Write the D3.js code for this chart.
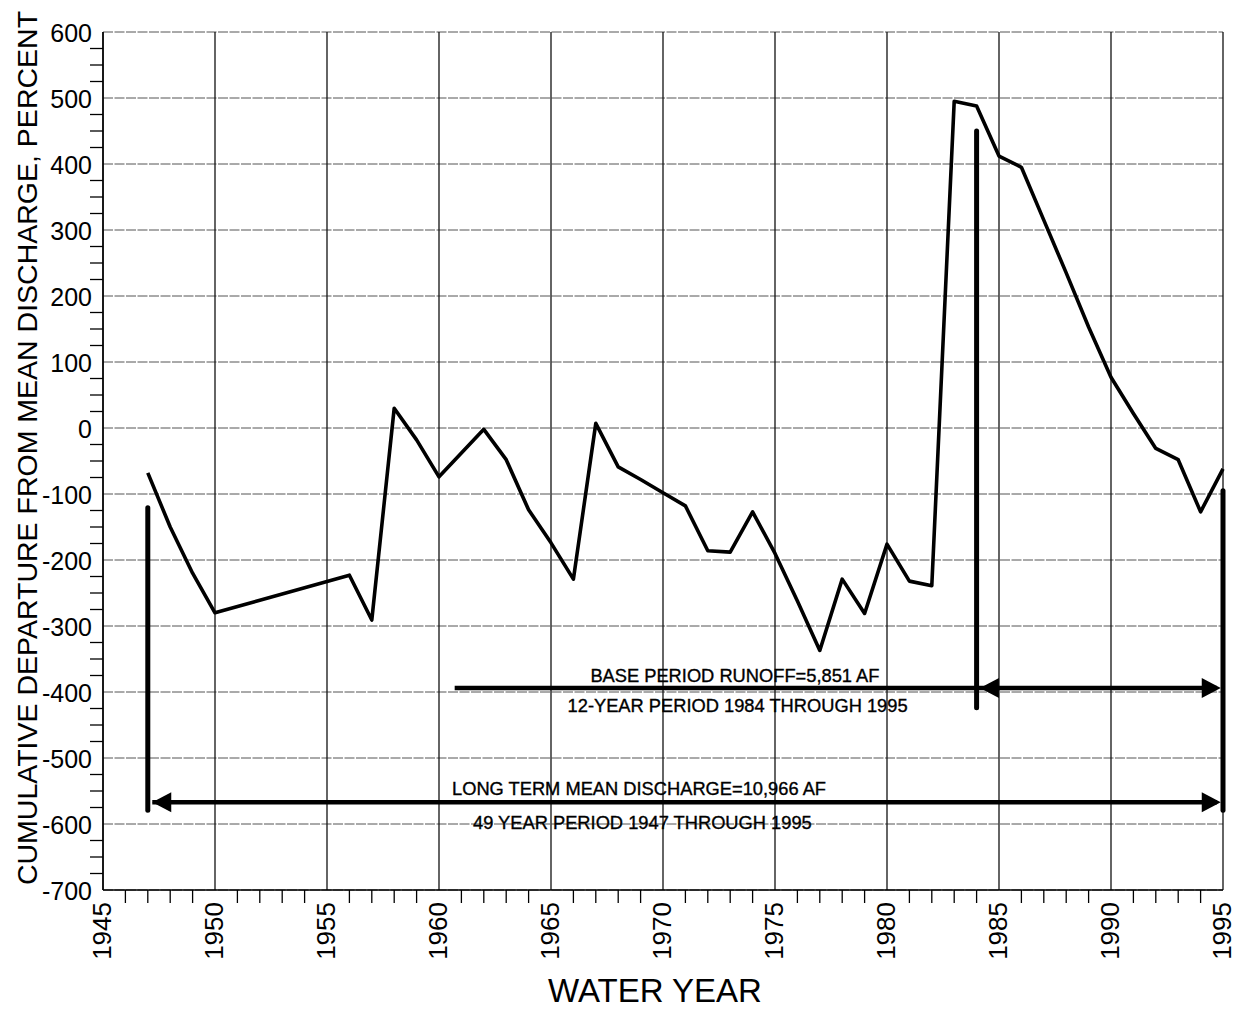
<!DOCTYPE html>
<html>
<head>
<meta charset="utf-8">
<script src="https://cdn.jsdelivr.net/npm/d3@7"></script>
<style>
  html, body { margin: 0; padding: 0; background: #fff; }
  svg { display: block; font-family: "Liberation Sans", Arial, sans-serif; }
</style>
</head>
<body>
<svg id="chart" width="1236" height="1009"></svg>
<script>
// Water years with records and the cumulative departure (percent) for each
const years = [1947, 1948, 1949, 1950, 1956, 1957, 1958, 1959, 1960, 1961, 1962, 1963, 1964, 1965,
               1966, 1967, 1968, 1969, 1970, 1971, 1972, 1973, 1974, 1975, 1976, 1977, 1978, 1979,
               1980, 1981, 1982, 1983, 1984, 1985, 1986, 1987, 1988, 1989, 1990, 1991, 1992, 1993,
               1994, 1995];
const departure = [-68, -150, -220, -280, -223, -291, 30, -18, -74, -38, -2, -48, -124, -174,
                   -229, 7, -59, -78, -98, -118, -186, -188, -127, -190, -262, -337, -229, -281,
                   -176, -232, -239, 495, 488, 412, 395, 315, 235, 153, 77, 22, -31, -48,
                   -127, -62];

// Axis tick values
const yMajorTicks = d3.range(-700, 601, 100);
const yMinorTicks = d3.range(-700, 601, 25).filter(v => v % 100 !== 0);
const xMajorTicks = d3.range(1945, 1996, 5);
const xMinorTicks = d3.range(1945, 1996, 1).filter(v => v % 5 !== 0);

// Period brackets: vertical markers and double arrows (year, value)
const markers = [
  { year: 1947, from: -121, to: -579 },
  { year: 1984, from: 450, to: -424 },
  { year: 1995, from: -95, to: -579 }
];
const arrows = [
  { lineStart: 1960.7, headLeft: 1984.15, headRight: 1994.9, value: -394 },
  { lineStart: 1947.2, headLeft: 1947.2, headRight: 1994.9, value: -567 }
];
const notes = [
  { text: "BASE PERIOD RUNOFF=5,851 AF", year: 1973.21, value: -385 },
  { text: "12-YEAR PERIOD 1984 THROUGH 1995", year: 1973.33, value: -430 },
  { text: "LONG TERM MEAN DISCHARGE=10,966 AF", year: 1968.93, value: -556 },
  { text: "49 YEAR PERIOD 1947 THROUGH 1995", year: 1969.08, value: -607 }
];

const svg = d3.select("#chart");
const x = d3.scaleLinear().domain([1945, 1995]).range([103, 1223]);
const y = d3.scaleLinear().domain([-700, 600]).range([890, 32]);

// Horizontal grid
svg.append("g").selectAll("line").data(yMajorTicks).join("line")
  .attr("x1", x(1945)).attr("x2", x(1995))
  .attr("y1", d => y(d)).attr("y2", d => y(d))
  .attr("stroke", "#555").attr("stroke-width", 1)
  .attr("stroke-dasharray", "10,1.5");

// Vertical grid
svg.append("g").selectAll("line").data(xMajorTicks).join("line")
  .attr("x1", d => x(d)).attr("x2", d => x(d))
  .attr("y1", y(600)).attr("y2", y(-700))
  .attr("stroke", "#111").attr("stroke-width", 1.3);

// Axes lines
svg.append("line").attr("x1", x(1945)).attr("x2", x(1945)).attr("y1", y(600)).attr("y2", y(-700))
  .attr("stroke", "#000").attr("stroke-width", 1.5);
svg.append("line").attr("x1", x(1945)).attr("x2", x(1995)).attr("y1", y(-700)).attr("y2", y(-700))
  .attr("stroke", "#000").attr("stroke-width", 1.5);

// Y axis: labels at each 100, small ticks in between
const yAxis = d3.axisLeft(y).tickValues(yMajorTicks).tickSize(0).tickPadding(11).tickFormat(d => String(d));
const gy = svg.append("g").attr("transform", `translate(${x(1945)},0)`).call(yAxis);
gy.select(".domain").remove();
gy.selectAll("text").attr("font-size", 25).attr("fill", "#000")
  .attr("font-family", "'Liberation Sans', Arial, sans-serif").attr("dy", "0.36em");
svg.append("g").selectAll("line").data(yMinorTicks).join("line")
  .attr("x1", x(1945) - 13).attr("x2", x(1945))
  .attr("y1", d => y(d)).attr("y2", d => y(d))
  .attr("stroke", "#000").attr("stroke-width", 1.3);

// X axis: rotated year labels every 5, small ticks every year
svg.append("g").selectAll("line").data(xMinorTicks).join("line")
  .attr("x1", d => x(d)).attr("x2", d => x(d))
  .attr("y1", y(-700)).attr("y2", y(-700) + 13)
  .attr("stroke", "#000").attr("stroke-width", 1.3);
svg.append("g").selectAll("text").data(xMajorTicks).join("text")
  .attr("transform", d => `translate(${x(d) + 8},${y(-700) + 12}) rotate(-90)`)
  .attr("text-anchor", "end")
  .attr("font-size", 26)
  .text(d => d);

// Axis titles
svg.append("text")
  .attr("transform", `translate(37,${(y(600) + y(-700)) / 2 - 13}) rotate(-90)`)
  .attr("text-anchor", "middle").attr("font-size", 28.5)
  .text("CUMULATIVE DEPARTURE FROM MEAN DISCHARGE, PERCENT");
svg.append("text")
  .attr("x", 655).attr("y", 1002)
  .attr("text-anchor", "middle").attr("font-size", 33)
  .text("WATER YEAR");

// Cumulative departure line
const line = d3.line().x((d, i) => x(years[i])).y(d => y(d));
svg.append("path").datum(departure)
  .attr("d", line)
  .attr("fill", "none").attr("stroke", "#000").attr("stroke-width", 3.6)
  .attr("stroke-linejoin", "round");

// Period markers
svg.append("g").selectAll("line").data(markers).join("line")
  .attr("x1", d => x(d.year)).attr("x2", d => x(d.year))
  .attr("y1", d => y(d.from)).attr("y2", d => y(d.to))
  .attr("stroke", "#000").attr("stroke-width", 5).attr("stroke-linecap", "round");

// Double arrows
const headLen = 19, headHalf = 10;
arrows.forEach(a => {
  const yy = y(a.value);
  svg.append("line")
    .attr("x1", x(a.lineStart)).attr("x2", x(a.headRight) - 4)
    .attr("y1", yy).attr("y2", yy)
    .attr("stroke", "#000").attr("stroke-width", 4.5);
  const xl = x(a.headLeft), xr = x(a.headRight);
  svg.append("path")
    .attr("d", `M${xl},${yy}L${xl + headLen},${yy - headHalf}L${xl + headLen},${yy + headHalf}Z`)
    .attr("fill", "#000");
  svg.append("path")
    .attr("d", `M${xr},${yy}L${xr - headLen},${yy - headHalf}L${xr - headLen},${yy + headHalf}Z`)
    .attr("fill", "#000");
});

// Period notes
svg.append("g").selectAll("text").data(notes).join("text")
  .attr("x", d => x(d.year)).attr("y", d => y(d.value))
  .attr("text-anchor", "middle").attr("font-size", 18.3)
  .attr("stroke", "#000").attr("stroke-width", 0.35)
  .text(d => d.text);
</script>
</body>
</html>
